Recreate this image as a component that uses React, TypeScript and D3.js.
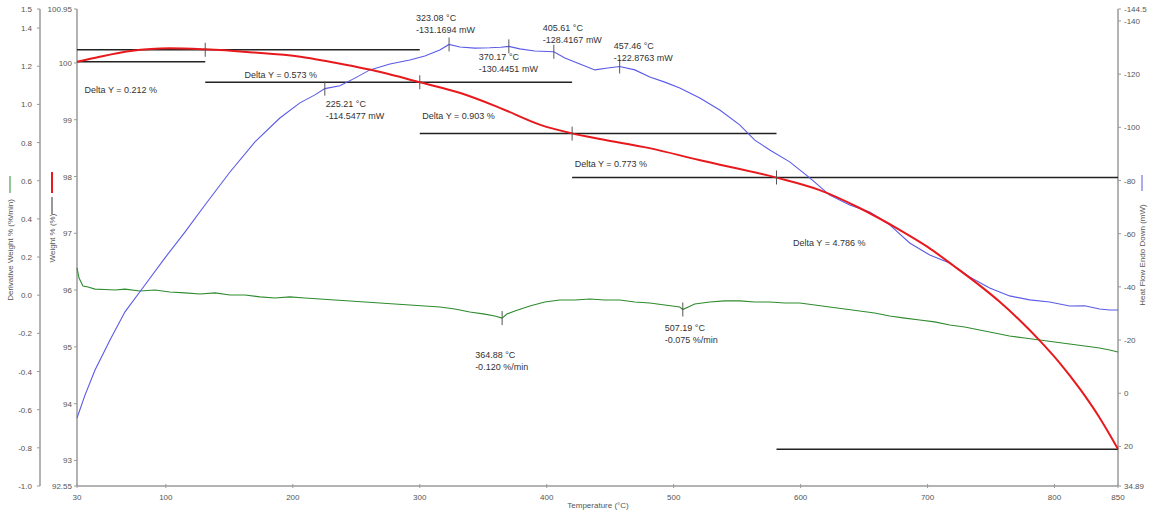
import React from "react";
import * as d3 from "d3";

// ---------- DATA ----------
const weightT = [30, 48, 72, 103, 131, 166, 206, 229, 269, 300, 332, 363, 395, 420, 442, 481, 520, 581, 615, 646, 678, 700, 721, 740, 757, 773, 788, 804, 820, 835, 850];
const weightV = [100.02, 100.11, 100.21, 100.26, 100.24, 100.19, 100.11, 100.02, 99.84, 99.66, 99.47, 99.21, 98.91, 98.76, 98.66, 98.50, 98.29, 97.98, 97.76, 97.45, 97.06, 96.76, 96.42, 96.10, 95.79, 95.46, 95.12, 94.72, 94.26, 93.77, 93.2];

const heatT = [30, 36.3, 44.2, 56, 67.8, 83.5, 99.3, 115, 130.8, 150.5, 170.2, 189.8, 205.6, 217.4, 225.21, 237.1, 248.9, 260.7, 276.5, 292.2, 304, 315.8, 323.08, 331.6, 343.4, 355.2, 363.9, 370.17, 378.8, 390.6, 405.61, 414.3, 426.1, 437.9, 448.1, 457.46, 469.4, 481.2, 493, 504.8, 520.6, 536.3, 552, 563.9, 575.7, 591.4, 607.2, 622.9, 638.7, 654.4, 670.2, 685.9, 701.7, 717.4, 733.1, 748.9, 764.6, 780.4, 796.1, 811.9, 823.7, 835.5, 843.4, 850];
const heatV = [9.3, 0.7, -8.7, -20.0, -30.6, -40.7, -50.9, -60.6, -70.8, -83.2, -94.5, -103.5, -109.2, -112.2, -114.5477, -115.6, -118.5, -121.6, -123.8, -125.3, -126.8, -129.1, -131.1694, -130.2, -129.8, -129.9, -130.1, -130.4451, -129.5, -128.7, -128.4167, -126.1, -123.8, -121.6, -122.3, -122.8763, -121.6, -118.9, -117.0, -114.8, -111.0, -106.5, -100.9, -95.2, -91.5, -87.0, -81.0, -74.5, -70.8, -68.2, -63.3, -56.5, -52.0, -49.0, -43.7, -39.6, -36.6, -35.1, -34.3, -32.8, -32.9, -31.7, -31.3, -31.3];

const derivT = [30, 31.6, 34.7, 38.7, 44.2, 52, 60, 67.8, 79.6, 91.4, 103.2, 115, 126.9, 138.7, 150.5, 162.3, 174.1, 185.9, 197.7, 209.5, 221.3, 233.1, 245, 256.8, 268.6, 280.4, 292.2, 304, 315.8, 327.6, 339.4, 351.2, 359.1, 364.88, 368.6, 374.9, 386.7, 398.5, 410.3, 422.1, 433.9, 445.7, 457.6, 469.4, 481.2, 493, 504.8, 507.19, 516.6, 528.4, 540.2, 552, 563.9, 575.7, 587.5, 599.3, 611.1, 622.9, 634.7, 646.5, 658.3, 670.2, 682, 693.8, 705.6, 717.4, 729.2, 741, 752.8, 764.6, 776.5, 788.3, 800.1, 811.9, 823.7, 835.5, 843.4, 850];
const derivV = [0.143, 0.09, 0.048, 0.043, 0.032, 0.03, 0.027, 0.032, 0.022, 0.027, 0.017, 0.012, 0.006, 0.012, 0.001, 0.001, -0.009, -0.015, -0.009, -0.015, -0.02, -0.025, -0.03, -0.036, -0.041, -0.046, -0.051, -0.057, -0.062, -0.072, -0.088, -0.099, -0.109, -0.12, -0.099, -0.083, -0.057, -0.036, -0.025, -0.025, -0.02, -0.025, -0.025, -0.036, -0.041, -0.051, -0.062, -0.075, -0.046, -0.036, -0.03, -0.03, -0.036, -0.036, -0.041, -0.041, -0.051, -0.062, -0.072, -0.083, -0.093, -0.109, -0.12, -0.13, -0.14, -0.156, -0.167, -0.182, -0.198, -0.214, -0.224, -0.235, -0.245, -0.256, -0.266, -0.277, -0.287, -0.298];

const stepTemps = [30, 131, 300, 420, 581, 850];
const stepWeights = [100.02, 100.232, 99.659, 98.756, 97.983, 93.197];
const deltaLabels = ["Delta Y = 0.212 %", "Delta Y = 0.573 %", "Delta Y = 0.903 %", "Delta Y = 0.773 %", "Delta Y = 4.786 %"];
const deltaLabelT = [36, 162, 302, 422, 594];
const deltaLabelW = [99.52, 99.78, 99.06, 98.22, 96.83];

const heatPeakT = [225.21, 323.08, 370.17, 405.61, 457.46];
const heatPeakV = [-114.5477, -131.1694, -130.4451, -128.4167, -122.8763];
const derivPeakT = [364.88, 507.19];
const derivPeakV = [-0.12, -0.075];

const xTicks = [30, 100, 200, 300, 400, 500, 600, 700, 800, 850];
const derivTicks = [1.5, 1.4, 1.2, 1.0, 0.8, 0.6, 0.4, 0.2, 0.0, -0.2, -0.4, -0.6, -0.8, -1.0];
const weightTicks = [100.95, 100, 99, 98, 97, 96, 95, 94, 93, 92.55];
const heatTicks = [-144.5, -140, -120, -100, -80, -60, -40, -20, 0, 20, 34.89];

// ---------- LAYOUT ----------
const W = 1151, H = 513;
const X0 = 77, X1 = 1118, Y0 = 9, Y1 = 486;
const FONT = "'Liberation Sans', Arial, sans-serif";

const heatLabelOffsets = [[1, 18, 30], [-33, -23, -11], [-30, 14, 26], [-11, -21, -9], [-6, -17, -5]];
const derivLabelOffsets = [[-27, 40, 52], [-18, 21, 33]];

const fmtDeriv = (v: number) => v.toFixed(1);
const fmtWeight = (v: number) => String(v);
const fmtHeat = (v: number) => String(v);

export default function App() {
  const x = d3.scaleLinear().domain([30, 850]).range([X0, X1]);
  const yW = d3.scaleLinear().domain([92.55, 100.95]).range([Y1, Y0]);
  const yD = d3.scaleLinear().domain([-1, 1.5]).range([Y1, Y0]);
  const yH = d3.scaleLinear().domain([-144.5, 34.89]).range([Y0, Y1]);

  const redLine = d3.line<number>().x((_, i) => x(weightT[i])).y((v) => yW(v)).curve(d3.curveMonotoneX)(weightV) || "";
  const blueLine = d3.line<number>().x((_, i) => x(heatT[i])).y((v) => yH(v)).curve(d3.curveLinear)(heatV) || "";
  const greenLine = d3.line<number>().x((_, i) => x(derivT[i])).y((v) => yD(v)).curve(d3.curveLinear)(derivV) || "";

  const axisColor = "#9a9a9a";
  const tickText = "#555";
  const annText = "#333";

  return (
    <svg width={W} height={H} style={{ position: "absolute", left: 0, top: 0, background: "#fff" }} fontFamily={FONT}>
      {/* axes lines */}
      <line x1={40} y1={Y0} x2={40} y2={Y1} stroke={axisColor} strokeWidth={1.5} />
      <line x1={X0} y1={Y0} x2={X0} y2={Y1} stroke={axisColor} strokeWidth={1.5} />
      <line x1={X1} y1={Y0} x2={X1} y2={Y1} stroke={axisColor} strokeWidth={1.5} />
      <line x1={X0} y1={Y1} x2={X1} y2={Y1} stroke={axisColor} strokeWidth={1.5} />

      {derivTicks.map((t) => (
        <g key={"d" + t}>
          <line x1={37} x2={40} y1={yD(t)} y2={yD(t)} stroke={axisColor} />
          <text x={32} y={yD(t) + 3} fontSize={8} fill={tickText} textAnchor="end">{fmtDeriv(t)}</text>
        </g>
      ))}
      {weightTicks.map((t) => (
        <g key={"w" + t}>
          <line x1={74} x2={77} y1={yW(t)} y2={yW(t)} stroke={axisColor} />
          <text x={72} y={yW(t) + 3} fontSize={8} fill={tickText} textAnchor="end">{fmtWeight(t)}</text>
        </g>
      ))}
      {heatTicks.map((t) => (
        <g key={"h" + t}>
          <line x1={X1} x2={X1 + 3} y1={yH(t)} y2={yH(t)} stroke={axisColor} />
          <text x={X1 + 6} y={yH(t) + 3} fontSize={8} fill={tickText} textAnchor="start">{fmtHeat(t)}</text>
        </g>
      ))}
      {xTicks.map((t) => (
        <g key={"x" + t}>
          <line x1={x(t)} x2={x(t)} y1={Y1 - 2} y2={Y1 + 2} stroke={axisColor} />
          <text x={x(t)} y={Y1 + 14} fontSize={8} fill={tickText} textAnchor="middle">{t}</text>
        </g>
      ))}
      <text x={598} y={508} fontSize={8} fill={tickText} textAnchor="middle">Temperature (°C)</text>

      <text transform="translate(13,250) rotate(-90)" fontSize={8} fill={tickText} textAnchor="middle">Derivative Weight % (%/min)</text>
      <line x1={10} x2={10} y1={176} y2={193} stroke="#2e8b2e" strokeWidth={1} />
      <text transform="translate(55,238) rotate(-90)" fontSize={8} fill={tickText} textAnchor="middle">Weight % (%)</text>
      <line x1={52} x2={52} y1={197} y2={214} stroke="#333" strokeWidth={1} />
      <line x1={52} x2={52} y1={172} y2={193} stroke="#e8191c" strokeWidth={2} />
      <text transform="translate(1145,255) rotate(-90)" fontSize={8} fill={tickText} textAnchor="middle">Heat Flow Endo Down (mW)</text>
      <line x1={1142} x2={1142} y1={175} y2={191} stroke="#8f8ff0" strokeWidth={1.5} />

      {stepWeights.map((w, i) => {
        const t0 = stepTemps[Math.max(0, i - 1)];
        const t1 = stepTemps[Math.min(stepTemps.length - 1, i + 1)];
        return <line key={"s" + i} x1={x(t0)} x2={x(t1)} y1={yW(w)} y2={yW(w)} stroke="#222" strokeWidth={1.5} />;
      })}

      <path d={greenLine} fill="none" stroke="#2e8b2e" strokeWidth={1.1} />
      <path d={blueLine} fill="none" stroke="#5a5ae8" strokeWidth={1.1} />
      <path d={redLine} fill="none" stroke="#e8191c" strokeWidth={2} />

      {stepTemps.slice(1, 5).map((t, i) => (
        <line key={"sm" + i} x1={x(t)} x2={x(t)} y1={yW(stepWeights[i + 1]) - 7} y2={yW(stepWeights[i + 1]) + 7} stroke="#555" strokeWidth={1} />
      ))}
      {deltaLabels.map((s, i) => (
        <text key={"dl" + i} x={x(deltaLabelT[i])} y={yW(deltaLabelW[i]) + 3} fontSize={9} fill={annText}>{s}</text>
      ))}

      {heatPeakT.map((t, i) => {
        const px = x(t), py = yH(heatPeakV[i]);
        const o = heatLabelOffsets[i];
        return (
          <g key={"hp" + i}>
            <line x1={px} x2={px} y1={py - 7} y2={py + 7} stroke="#555" strokeWidth={1} />
            <text x={px + o[0]} y={py + o[1]} fontSize={9} fill={annText}>{t.toFixed(2)} °C</text>
            <text x={px + o[0]} y={py + o[2]} fontSize={9} fill={annText}>{heatPeakV[i].toFixed(4)} mW</text>
          </g>
        );
      })}
      {derivPeakT.map((t, i) => {
        const px = x(t), py = yD(derivPeakV[i]);
        const o = derivLabelOffsets[i];
        return (
          <g key={"dp" + i}>
            <line x1={px} x2={px} y1={py - 7} y2={py + 7} stroke="#555" strokeWidth={1} />
            <text x={px + o[0]} y={py + o[1]} fontSize={9} fill={annText}>{t.toFixed(2)} °C</text>
            <text x={px + o[0]} y={py + o[2]} fontSize={9} fill={annText}>{derivPeakV[i].toFixed(3)} %/min</text>
          </g>
        );
      })}
    </svg>
  );
}
